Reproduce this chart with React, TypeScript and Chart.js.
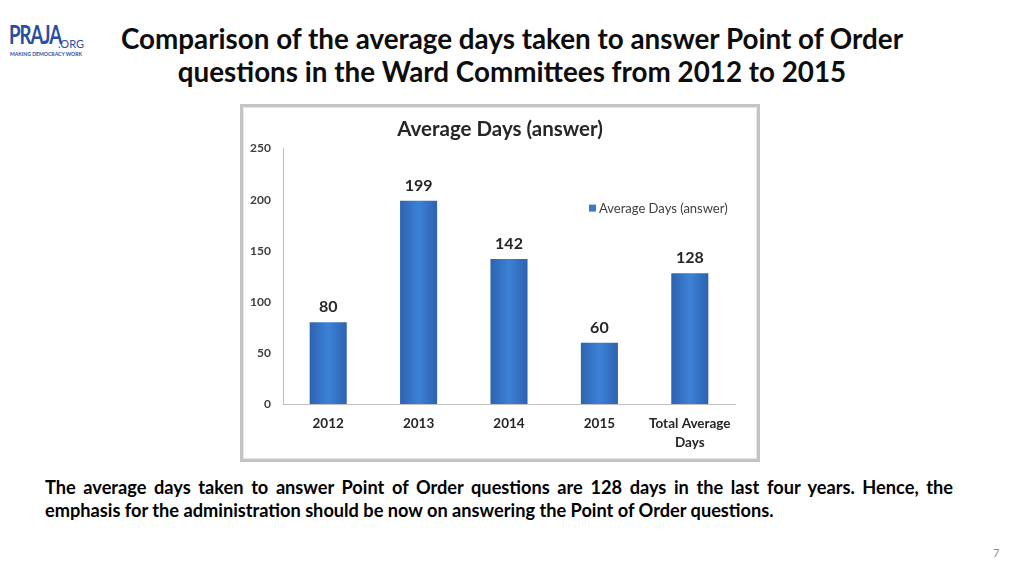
import React, { useEffect, useRef } from "react";
import { Chart, registerables } from "chart.js";

Chart.register(...registerables);

const categories: (string | string[])[] = ["2012", "2013", "2014", "2015", ["Total Average", "Days"]];
const averageDays: number[] = [80, 199, 142, 60, 128];
const yTicks: number[] = [0, 50, 100, 150, 200, 250];
const seriesLabel = "Average Days (answer)";
const chartTitle = "Average Days (answer)";
const slideTitle = "Comparison of the average days taken to answer Point of Order questions in the Ward Committees from 2012 to 2015";
const bodyText =
  "The average days taken to answer Point of Order questions are 128 days in the last four years. Hence, the emphasis for the administration should be now on answering the Point of Order questions.";

const FONT = "Lato, 'Open Sans', sans-serif";
const NARROW = "'Liberation Sans Narrow', Lato, sans-serif";
const BAR_PCT = 0.41;

const valueLabels = {
  id: "valueLabels",
  afterDatasetsDraw(chart: any) {
    const ctx = chart.ctx;
    const meta = chart.getDatasetMeta(0);
    ctx.save();
    ctx.font = `bold 16px ${FONT}`;
    ctx.fillStyle = "#262626";
    ctx.textAlign = "center";
    ctx.textBaseline = "bottom";
    meta.data.forEach((el: any, i: number) => {
      ctx.fillText(String(chart.data.datasets[0].data[i]), el.x, el.y - 7);
    });
    ctx.restore();
  },
};

const insideLegend = {
  id: "insideLegend",
  afterDatasetsDraw(chart: any) {
    const ctx = chart.ctx;
    const area = chart.chartArea;
    const x = area.right - 146;
    const y = area.top + 60;
    ctx.save();
    ctx.fillStyle = "#3a78c9";
    ctx.fillRect(x, y - 4, 7, 7);
    ctx.font = `13px ${FONT}`;
    ctx.fillStyle = "#404040";
    ctx.textAlign = "left";
    ctx.textBaseline = "middle";
    ctx.fillText(chart.data.datasets[0].label, x + 10, y);
    ctx.restore();
  },
};

function barFill(context: any) {
  const chart = context.chart;
  const xs = chart.scales && chart.scales.x;
  if (!xs || !chart.chartArea) return "#3a7bd0";
  const cx = xs.getPixelForValue(context.dataIndex);
  const w = (xs.width / categories.length) * BAR_PCT;
  const g = chart.ctx.createLinearGradient(cx - w / 2, 0, cx + w / 2, 0);
  g.addColorStop(0, "#2d62b0");
  g.addColorStop(0.5, "#3c82d6");
  g.addColorStop(1, "#2d62b0");
  return g;
}

function ChartBox() {
  const ref = useRef<HTMLCanvasElement | null>(null);
  useEffect(() => {
    if (!ref.current) return;
    const chart = new Chart(ref.current, {
      type: "bar",
      data: {
        labels: categories,
        datasets: [
          {
            label: seriesLabel,
            data: averageDays,
            backgroundColor: barFill,
            borderWidth: 0,
            barPercentage: BAR_PCT,
            categoryPercentage: 1,
          },
        ],
      },
      options: {
        animation: false,
        responsive: false,
        maintainAspectRatio: false,
        layout: { padding: 0 },
        plugins: {
          legend: { display: false },
          tooltip: { enabled: false },
          title: {
            display: true,
            text: chartTitle,
            color: "#262626",
            font: { family: FONT, size: 20.5, weight: "bold" },
            padding: { top: 10, bottom: 7 },
          },
        },
        scales: {
          x: {
            grid: { display: false, drawTicks: false },
            border: { display: true, color: "#bfbfbf", width: 1 },
            ticks: {
              color: "#262626",
              font: { family: FONT, size: 13.5, weight: "bold", lineHeight: 1.4 },
              padding: 10,
              maxRotation: 0,
              autoSkip: false,
            },
            afterFit(scale: any) {
              scale.height = 55;
            },
          },
          y: {
            min: 0,
            max: 250,
            grid: { display: false, drawTicks: false },
            border: { display: true, color: "#bfbfbf", width: 1 },
            afterBuildTicks(scale: any) {
              scale.ticks = yTicks.map((v) => ({ value: v }));
            },
            ticks: {
              color: "#404040",
              font: { family: FONT, size: 12, weight: "bold" },
              padding: 12,
            },
            afterFit(scale: any) {
              scale.width = 40;
            },
          },
          spacer: {
            type: "linear",
            position: "right",
            display: true,
            grid: { display: false, drawTicks: false },
            border: { display: false },
            ticks: { display: false },
            afterFit(scale: any) {
              scale.width = 22;
            },
          },
        },
      },
      plugins: [valueLabels, insideLegend],
    });
    return () => chart.destroy();
  }, []);
  return <canvas ref={ref} width={514} height={352} style={{ display: "block" }} />;
}

export default function App() {
  return (
    <div
      style={{
        position: "absolute",
        left: 0,
        top: 0,
        width: 1024,
        height: 576,
        background: "#ffffff",
        fontFamily: FONT,
        overflow: "hidden",
      }}
    >
      <div style={{ position: "absolute", left: 0, top: 0, color: "#2b4f9e", lineHeight: 1 }}>
        <span
          style={{
            position: "absolute",
            left: 9,
            top: 21,
            fontFamily: NARROW,
            fontWeight: 700,
            fontSize: 26,
            letterSpacing: -1.5,
            transform: "scaleX(0.72)",
            transformOrigin: "left top",
            whiteSpace: "nowrap",
          }}
        >
          PRAJA
        </span>
        <span style={{ position: "absolute", left: 58, top: 38, fontFamily: NARROW, fontSize: 11, whiteSpace: "nowrap" }}>.ORG</span>
        <span
          style={{
            position: "absolute",
            left: 10,
            top: 51,
            fontFamily: NARROW,
            fontSize: 6,
            fontWeight: 700,
            transform: "scaleX(0.85)",
            transformOrigin: "left top",
            whiteSpace: "nowrap",
          }}
        >
          MAKING DEMOCRACY WORK
        </span>
      </div>

      <div
        style={{
          position: "absolute",
          left: 100,
          top: 22,
          width: 824,
          textAlign: "center",
          color: "#0d0d0d",
          fontWeight: 700,
          fontSize: 27.8,
          lineHeight: "33px",
        }}
      >
        {slideTitle}
      </div>

      <div
        style={{
          position: "absolute",
          left: 240,
          top: 104,
          width: 514,
          height: 352,
          border: "3px solid #c4c4c4",
          boxShadow: "inset 0 0 0 1px #e6e6e6",
          background: "#fff",
        }}
      >
        <ChartBox />
      </div>

      <div
        style={{
          position: "absolute",
          left: 45,
          top: 476,
          width: 908,
          textAlign: "justify",
          color: "#000",
          fontWeight: 700,
          fontSize: 18.2,
          lineHeight: "23px",
        }}
      >
        {bodyText}
      </div>

      <div style={{ position: "absolute", left: 993, top: 546, fontSize: 11, color: "#8c8c8c" }}>7</div>
    </div>
  );
}
